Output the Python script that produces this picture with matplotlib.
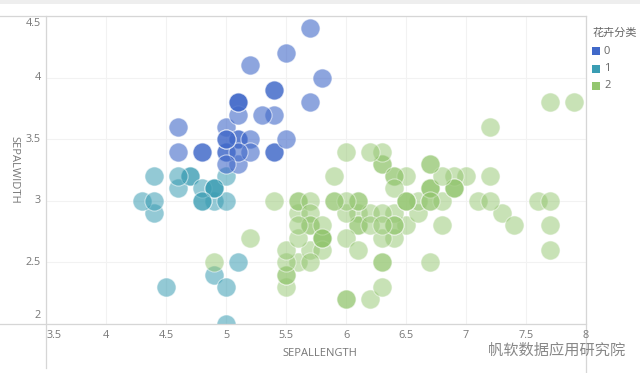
import matplotlib
matplotlib.use("Agg")
import matplotlib.pyplot as plt
from matplotlib.lines import Line2D
from matplotlib.patches import Rectangle

# ---- data (sepal length, sepal width) per class ----
class0_len = [5.1, 5.0, 5.4, 4.6, 5.0, 5.4, 4.8, 5.8, 5.7, 5.4, 5.1, 5.7, 5.1, 5.4, 5.1, 4.6,
              5.1, 4.8, 5.0, 5.2, 5.2, 5.4, 5.2, 5.5, 5.5, 5.1, 5.0, 5.0, 5.1, 5.1, 5.3, 5.0]
class0_wid = [3.5, 3.6, 3.9, 3.4, 3.4, 3.7, 3.4, 4.0, 4.4, 3.9, 3.5, 3.8, 3.8, 3.4, 3.7, 3.6,
              3.3, 3.4, 3.4, 3.5, 3.4, 3.4, 4.1, 4.2, 3.5, 3.4, 3.5, 3.5, 3.8, 3.8, 3.7, 3.3]

class1_len = [4.9, 4.7, 4.6, 4.4, 4.9, 4.8, 4.3, 5.0, 4.7, 4.8, 4.9, 5.0, 4.9, 4.4, 4.5, 4.4,
              4.8, 4.6, 4.9, 5.0, 5.0, 5.1]
class1_wid = [3.0, 3.2, 3.1, 2.9, 3.1, 3.0, 3.0, 3.0, 3.2, 3.1, 3.1, 3.2, 3.1, 3.0, 2.3, 3.2,
              3.0, 3.2, 2.4, 2.0, 2.3, 2.5]

class2_len = [7.0, 6.4, 6.9, 5.5, 6.5, 5.7, 6.3, 6.6, 5.2, 5.9, 6.0, 6.1, 5.6, 6.7, 5.6, 5.8,
              6.2, 5.6, 5.9, 6.1, 6.3, 6.1, 6.4, 6.6, 6.8, 6.7, 6.0, 5.7, 5.5, 5.5, 5.8, 6.0,
              5.4, 6.0, 6.7, 6.3, 5.6, 5.5, 5.5, 6.1, 5.8, 5.6, 5.7, 5.7, 6.2, 5.7,
              6.3, 5.8, 7.1, 6.3, 6.5, 7.6, 4.9, 7.3, 6.7, 7.2, 6.5, 6.4, 6.8, 5.7, 5.8, 6.4,
              6.5, 7.7, 7.7, 6.0, 6.9, 5.6, 7.7, 6.3, 6.7, 7.2, 6.2, 6.1, 6.4, 7.2, 7.4, 7.9,
              6.4, 6.3, 6.1, 7.7, 6.3, 6.4, 6.0, 6.9, 6.7, 6.9, 5.8, 6.8, 6.7, 6.7, 6.3, 6.5,
              6.2, 5.9]
class2_wid = [3.2, 3.2, 3.1, 2.3, 2.8, 2.8, 3.3, 2.9, 2.7, 3.0, 2.2, 2.9, 2.9, 3.1, 3.0, 2.7,
              2.2, 2.5, 3.2, 2.8, 2.5, 2.8, 2.9, 3.0, 2.8, 3.0, 2.9, 2.6, 2.4, 2.4, 2.7, 2.7,
              3.0, 3.4, 3.1, 2.3, 3.0, 2.5, 2.6, 3.0, 2.6, 2.7, 3.0, 2.9, 2.9, 2.8,
              3.3, 2.7, 3.0, 2.9, 3.0, 3.0, 2.5, 2.9, 2.5, 3.6, 3.2, 2.7, 3.0, 2.5, 2.8, 3.2,
              3.0, 3.8, 2.6, 2.2, 3.2, 2.8, 2.8, 2.7, 3.3, 3.2, 2.8, 3.0, 2.8, 3.0, 2.8, 3.8,
              2.8, 2.8, 2.6, 3.0, 3.4, 3.1, 3.0, 3.1, 3.1, 3.1, 2.7, 3.2, 3.3, 3.0, 2.5, 3.0,
              3.4, 3.0]

class_names = ["0", "1", "2"]
class_colors = ["#4169c9", "#3a9db3", "#93c66f"]
x_ticks = [3.5, 4, 4.5, 5, 5.5, 6, 6.5, 7, 7.5, 8]
x_tick_labels = ["3.5", "4", "4.5", "5", "5.5", "6", "6.5", "7", "7.5", "8"]
y_ticks = [2, 2.5, 3, 3.5, 4, 4.5]
y_tick_labels = ["2", "2.5", "3", "3.5", "4", "4.5"]
x_label = "SEPALLENGTH"
y_label = "SEPALWIDTH"
legend_title = "花卉分类"
watermark = "帆软数据应用研究院"

plt.rcParams['font.family'] = ['Open Sans', 'Noto Sans CJK SC', 'DejaVu Sans']

W, H = 640, 373
fig = plt.figure(figsize=(6.4, 3.73), dpi=100)
fig.patch.set_facecolor("white")

L, R, T, B = 46, 586, 16, 324
ax = fig.add_axes([L / W, 1 - B / H, (R - L) / W, (B - T) / H])
ax.set_xlim(3.5, 8)
ax.set_ylim(2, 4.5)

series = [(class1_len, class1_wid), (class2_len, class2_wid), (class0_len, class0_wid)]
order = [1, 2, 0]
alphas = {0: 0.6, 1: 0.55, 2: 0.5}
for (xs, ys), k in zip(series, order):
    ax.scatter(xs, ys, s=190, color=class_colors[k], alpha=alphas[k],
               edgecolors="white", linewidths=0.8, zorder=3, clip_on=True)

# grid
ax.set_xticks(x_ticks)
ax.set_yticks(y_ticks)
ax.grid(True, color="#f2f2f2", linewidth=0.8, zorder=0)
ax.tick_params(length=0, labelleft=False, labelbottom=False)
for s in ax.spines.values():
    s.set_visible(False)

# tick labels
tick_color = "#777777"
for v, t in zip(x_ticks, x_tick_labels):
    xpx = L + (v - 3.5) * (R - L) / 4.5
    if v == x_ticks[0]:
        xpx += 8
    fig.text(xpx / W, 1 - 335 / H, t, ha="center", va="center", fontsize=7.8, color=tick_color)
for v, t in zip(y_ticks, y_tick_labels):
    ypx = B - (v - 2) * (B - T) / 2.5
    if v == y_ticks[-1]:
        ypx += 8
    if v == y_ticks[0]:
        ypx -= 8
    fig.text(41 / W, 1 - ypx / H, t, ha="right", va="center", fontsize=7.8, color=tick_color)

fig.text(320 / W, 1 - 354 / H, x_label, ha="center", va="center", fontsize=8, color="#777777")
fig.text(14 / W, 1 - 170 / H, y_label, ha="center", va="center", fontsize=8,
         color="#777777", rotation=-90)

# frame lines
lc = "#d6d6d6"
fig.add_artist(Line2D([0, R / W], [1 - T / H, 1 - T / H], color=lc, lw=0.9))
fig.add_artist(Line2D([0, R / W], [1 - B / H, 1 - B / H], color=lc, lw=0.9))
fig.add_artist(Line2D([L / W, L / W], [1 - T / H, 1 - 368 / H], color=lc, lw=0.9))
fig.add_artist(Line2D([R / W, R / W], [1 - T / H, 0], color=lc, lw=0.9))
fig.add_artist(Rectangle((0, 1 - 4 / H), 1, 4 / H, color="#eeeeee", lw=0))

# legend
fig.text(592 / W, 1 - 33 / H, legend_title, ha="left", va="center", fontsize=8,
         color="#666666")
for i, name in enumerate(class_names):
    ypx = 51 + i * 17.5
    fig.add_artist(Rectangle((592 / W, 1 - (ypx + 4) / H), 8 / W, 8 / H,
                             color=class_colors[i], lw=0))
    fig.text(604 / W, 1 - ypx / H, name, ha="left", va="center", fontsize=8, color="#666666")

# watermark
fig.text(625 / W, 1 - 350 / H, watermark, ha="right", va="center", fontsize=11,
         color="#888888", family=['Noto Sans CJK SC', 'DejaVu Sans'])

fig.savefig("out.png", dpi=100, facecolor="white")
